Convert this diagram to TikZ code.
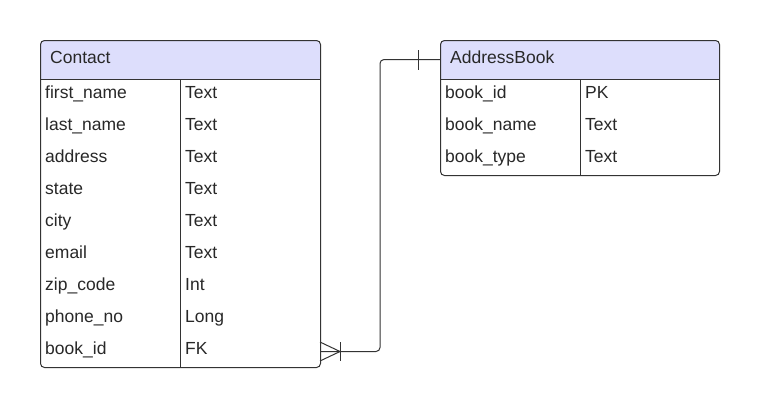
\documentclass[tikz,border=0pt]{standalone}
\usepackage{fontspec}
\setmainfont{Liberation Sans}
\definecolor{hdrfill}{RGB}{221,222,252}
\definecolor{linec}{RGB}{51,51,51}
\definecolor{txtc}{RGB}{40,40,40}
\tikzset{
  tblbox/.style={draw=linec, line width=1pt, rounded corners=4pt},
  hdrbox/.style={fill=hdrfill, rounded corners=4pt},
  sep/.style={draw=linec, line width=1pt},
  cell/.style={anchor=base west, inner sep=0pt, text=txtc, font=\fontsize{17.5}{20}\selectfont},
  conn/.style={draw=linec, line width=1pt, rounded corners=4pt},
  mark line/.style={draw=linec, line width=1pt},
}
\begin{document}
\begin{tikzpicture}[x=1pt,y=-1pt]
\useasboundingbox[fill=white] (0,0) rectangle (760,408);
% ---- Contact table
\fill[hdrbox] (40,40) rectangle (320,95);
\fill[white] (40,79) rectangle (320,367);
\node[tblbox, minimum width=280pt, minimum height=327pt, anchor=north west, inner sep=0pt] (contact) at (40,40) {};
\draw[sep] (40,79) -- (320,79);
\draw[sep] (180,79) -- (180,367);
\node[cell] (contacttitle) at (50,63.5) {Contact};
\foreach \n/\t [count=\i] in {first\_name/Text,last\_name/Text,address/Text,state/Text,city/Text,email/Text,zip\_code/Int,phone\_no/Long,book\_id/FK}{
  \node[cell] (cn\i) at (45,{98.5+32*(\i-1)}) {\n};
  \node[cell] (cv\i) at (185,{98.5+32*(\i-1)}) {\t};
}
% ---- AddressBook table
\fill[hdrbox] (440,40) rectangle (719,95);
\fill[white] (440,79) rectangle (719,175);
\node[tblbox, minimum width=279pt, minimum height=135pt, anchor=north west, inner sep=0pt] (abook) at (440,40) {};
\draw[sep] (440,79) -- (719,79);
\draw[sep] (580,79) -- (580,175);
\node[cell] (abtitle) at (450,63.5) {AddressBook};
\foreach \n/\t [count=\i] in {book\_id/PK,book\_name/Text,book\_type/Text}{
  \node[cell] (an\i) at (445,{98.5+32*(\i-1)}) {\n};
  \node[cell] (av\i) at (585,{98.5+32*(\i-1)}) {\t};
}
% ---- connector
\coordinate (cfk) at (320,351.5);
\coordinate (bend) at (380,351.5);
\coordinate (abin) at (440,59.5);
\draw[conn] (cfk) -- (bend) |- (abin);
% crow's foot (many) at Contact
\draw[mark line] (320,342) -- (340,351.5) -- (320,361);
\draw[mark line] (340,342) -- (340,361);
% one bar at AddressBook
\draw[mark line] (418,50) -- (418,69.5);
\end{tikzpicture}
\end{document}
